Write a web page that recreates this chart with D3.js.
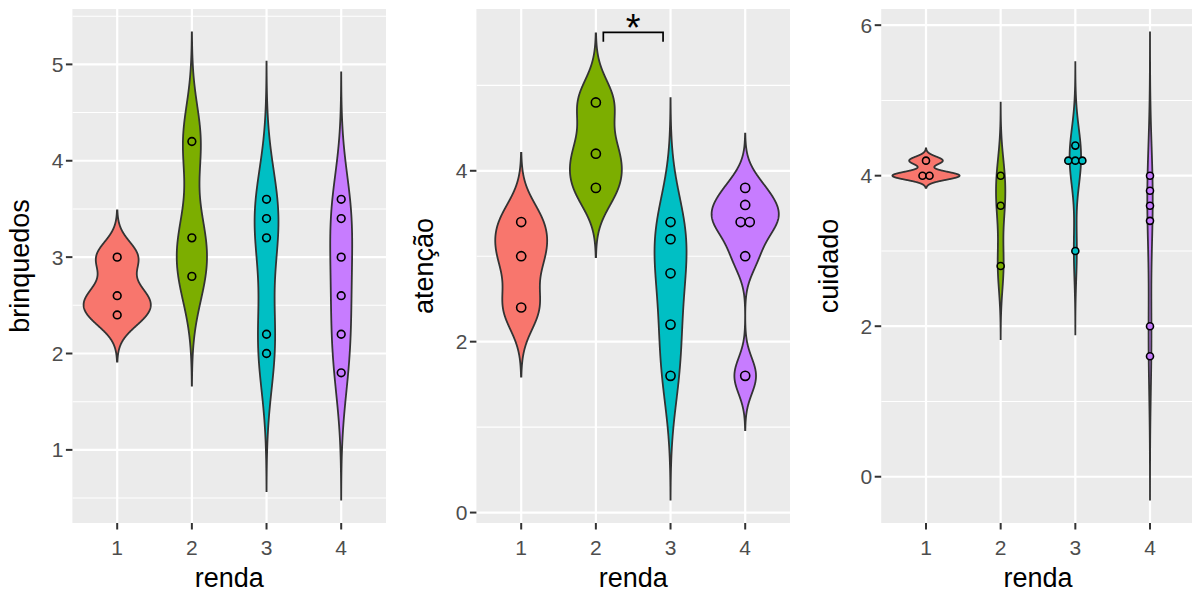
<!DOCTYPE html>
<html>
<head>
<meta charset="utf-8">
<script src="https://cdn.jsdelivr.net/npm/d3@7"></script>
<style>
  body { margin: 0; background: #ffffff; }
  svg { display: block; font-family: "Liberation Sans", Arial, sans-serif; }
</style>
</head>
<body>
<script>
// 分组 (renda) 和颜色
const rendaLevels = ['1', '2', '3', '4'];
const fillColors = ['#F8766D', '#7CAE00', '#00BFC4', '#C77CFF'];

// 每个面板的原始数据 (按 renda 分组)
const brinquedos = [[3.0, 2.6, 2.4], [4.2, 3.2, 2.8], [3.6, 3.4, 3.2, 2.2, 2.0], [3.6, 3.4, 3.0, 2.6, 2.2, 1.8]];
const atencao = [[3.4, 3.0, 2.4], [4.8, 4.2, 3.8], [3.4, 3.2, 2.8, 2.2, 1.6], [3.8, 3.6, 3.4, 3.4, 3.0, 1.6]];
const cuidado = [[4.2, 4.0, 4.0], [4.0, 3.6, 2.8], [4.4, 4.2, 4.2, 4.2, 3.0], [4.0, 3.8, 3.6, 3.4, 2.0, 1.6]];

// 刻度
const brinquedosTicks = [1, 2, 3, 4, 5];
const brinquedosMinor = [0.5, 1.5, 2.5, 3.5, 4.5, 5.5];
const atencaoTicks = [0, 2, 4];
const atencaoMinor = [1, 3, 5];
const cuidadoTicks = [0, 2, 4, 6];
const cuidadoMinor = [1, 3, 5];

// 显著性标注 (renda 2 vs 3)
const signifGroups = ['2', '3'];
const signifY = [5.62, 5.51]; // bracket, tip end
const signifLabel = '*';

const W = 1192, H = 593;
const TOP = 9, BOTTOM = 523;

const svg = d3.select('body').append('svg')
  .attr('width', W).attr('height', H);

// R bw.nrd0
function bwNrd0(x) {
  const s = x.slice().sort(d3.ascending);
  const hi = d3.deviation(s);
  let lo = Math.min(hi, (d3.quantileSorted(s, 0.75) - d3.quantileSorted(s, 0.25)) / 1.34);
  if (!lo) lo = hi || Math.abs(s[0]) || 1;
  return 0.9 * lo * Math.pow(s.length, -0.2);
}

// 高斯核密度, trim = FALSE (cut = 3)
function kde(x) {
  const bw = bwNrd0(x);
  const from = d3.min(x) - 3 * bw, to = d3.max(x) + 3 * bw;
  const n = 512;
  const pts = [];
  for (let i = 0; i < n; i++) {
    const v = from + (to - from) * i / (n - 1);
    let s = 0;
    x.forEach(xi => { const z = (v - xi) / bw; s += Math.exp(-0.5 * z * z); });
    pts.push({v: v, d: s / (x.length * bw * Math.sqrt(2 * Math.PI))});
  }
  return pts;
}

function drawPanel(cfg) {
  const g = svg.append('g');
  const dens = cfg.data.map(kde);
  const maxD = d3.max(dens, a => d3.max(a, p => p.d));

  // y 范围: 小提琴范围 + 标注, 扩展 5%
  let lo = d3.min(dens, a => a[0].v);
  let hi = d3.max(dens, a => a[a.length - 1].v);
  if (cfg.signif) hi = Math.max(hi, cfg.signif.y[0]);
  const pad = (hi - lo) * 0.05;

  const x = d3.scalePoint().domain(rendaLevels).range([cfg.left, cfg.right]).padding(0.6);
  const y = d3.scaleLinear().domain([lo - pad, hi + pad]).range([BOTTOM, TOP]);
  const step = x.step();

  const clipId = 'clip' + cfg.idx;
  svg.append('clipPath').attr('id', clipId).append('rect')
    .attr('x', cfg.left).attr('y', TOP).attr('width', cfg.right - cfg.left).attr('height', BOTTOM - TOP);

  // 背景 + 网格
  g.append('rect').attr('x', cfg.left).attr('y', TOP)
    .attr('width', cfg.right - cfg.left).attr('height', BOTTOM - TOP).attr('fill', '#EBEBEB');
  const grid = g.append('g').attr('clip-path', 'url(#' + clipId + ')');
  grid.selectAll('.minor').data(cfg.minor).enter().append('line')
    .attr('x1', cfg.left).attr('x2', cfg.right)
    .attr('y1', d => y(d)).attr('y2', d => y(d))
    .attr('stroke', '#ffffff').attr('stroke-width', 1.1);
  grid.selectAll('.major').data(cfg.ticks).enter().append('line')
    .attr('x1', cfg.left).attr('x2', cfg.right)
    .attr('y1', d => y(d)).attr('y2', d => y(d))
    .attr('stroke', '#ffffff').attr('stroke-width', 2.2);
  grid.selectAll('.vgrid').data(rendaLevels).enter().append('line')
    .attr('x1', d => x(d)).attr('x2', d => x(d))
    .attr('y1', TOP).attr('y2', BOTTOM)
    .attr('stroke', '#ffffff').attr('stroke-width', 2.2);

  // 小提琴 (scale = "area", width = 0.9)
  const plot = g.append('g').attr('clip-path', 'url(#' + clipId + ')');
  dens.forEach((pts, i) => {
    const cx = x(rendaLevels[i]);
    const area = d3.area()
      .y(p => y(p.v))
      .x0(p => cx - 0.45 * step * p.d / maxD)
      .x1(p => cx + 0.45 * step * p.d / maxD);
    plot.append('path').datum(pts).attr('d', area)
      .attr('fill', fillColors[i]).attr('stroke', '#333333').attr('stroke-width', 1.8);
  });

  // 点图 (binwidth = range / 30, stackdir = center)
  const all = d3.merge(cfg.data);
  const dia = Math.abs(y(0) - y((d3.max(all) - d3.min(all)) / 30));
  cfg.data.forEach((vals, i) => {
    const cx = x(rendaLevels[i]);
    const bins = d3.groups(vals, v => v);
    bins.forEach(([v, arr]) => {
      arr.forEach((_, k) => {
        plot.append('circle')
          .attr('cx', cx + (k - (arr.length - 1) / 2) * dia)
          .attr('cy', y(v))
          .attr('r', dia / 2)
          .attr('fill', fillColors[i]).attr('stroke', '#000000').attr('stroke-width', 1.6);
      });
    });
  });

  // 显著性括号
  if (cfg.signif) {
    const s = cfg.signif;
    const x1 = x(s.groups[0]) + 0.1 * step, x2 = x(s.groups[1]) - 0.1 * step;
    g.append('path')
      .attr('d', d3.line()([[x1, y(s.y[1])], [x1, y(s.y[0])], [x2, y(s.y[0])], [x2, y(s.y[1])]]))
      .attr('fill', 'none').attr('stroke', '#000000').attr('stroke-width', 1.7);
    g.append('text').attr('x', (x1 + x2) / 2).attr('y', y(s.y[0]) + 9)
      .attr('text-anchor', 'middle').attr('font-size', 38).attr('fill', '#000000')
      .text(s.label);
  }

  // y 轴
  const ya = g.append('g');
  ya.selectAll('line').data(cfg.ticks).enter().append('line')
    .attr('x1', cfg.left - 6.5).attr('x2', cfg.left)
    .attr('y1', d => y(d)).attr('y2', d => y(d))
    .attr('stroke', '#333333').attr('stroke-width', 2);
  ya.selectAll('text').data(cfg.ticks).enter().append('text')
    .attr('x', cfg.left - 9).attr('y', d => y(d)).attr('dy', '0.36em')
    .attr('text-anchor', 'end').attr('font-size', 21).attr('fill', '#4D4D4D')
    .text(d => d);

  // x 轴
  const xa = g.append('g');
  xa.selectAll('line').data(rendaLevels).enter().append('line')
    .attr('x1', d => x(d)).attr('x2', d => x(d))
    .attr('y1', BOTTOM).attr('y2', BOTTOM + 6.5)
    .attr('stroke', '#333333').attr('stroke-width', 2);
  xa.selectAll('text').data(rendaLevels).enter().append('text')
    .attr('x', d => x(d)).attr('y', 555)
    .attr('text-anchor', 'middle').attr('font-size', 21).attr('fill', '#4D4D4D')
    .text(d => d);

  // 轴标题
  g.append('text').attr('x', (cfg.left + cfg.right) / 2).attr('y', 587)
    .attr('text-anchor', 'middle').attr('font-size', 27).attr('fill', '#000000')
    .text('renda');
  g.append('text')
    .attr('transform', 'translate(' + (cfg.left - 43) + ',' + ((TOP + BOTTOM) / 2) + ') rotate(-90)')
    .attr('text-anchor', 'middle').attr('font-size', 27).attr('fill', '#000000')
    .text(cfg.title);
}

drawPanel({idx: 1, left: 72.4, right: 386, data: brinquedos, ticks: brinquedosTicks, minor: brinquedosMinor, title: 'brinquedos'});
drawPanel({idx: 2, left: 476.4, right: 790, data: atencao, ticks: atencaoTicks, minor: atencaoMinor, title: 'atenção',
  signif: {groups: signifGroups, y: signifY, label: signifLabel}});
drawPanel({idx: 3, left: 881.2, right: 1194.8, data: cuidado, ticks: cuidadoTicks, minor: cuidadoMinor, title: 'cuidado'});
</script>
</body>
</html>
